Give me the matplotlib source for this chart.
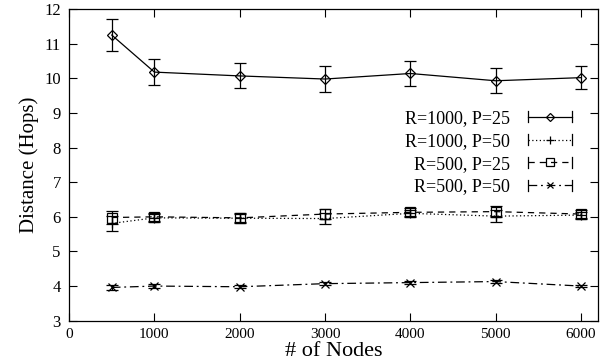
import numpy as np
import matplotlib
matplotlib.use("Agg")
import matplotlib.pyplot as plt
from matplotlib.lines import Line2D
from matplotlib.legend_handler import HandlerBase

plt.rcParams['font.family'] = ['Liberation Serif', 'DejaVu Serif']

nodes = [500, 1000, 2000, 3000, 4000, 5000, 6000]

# R=1000, P=25
r1000_p25 = [11.25, 10.18, 10.07, 9.98, 10.14, 9.93, 10.02]
r1000_p25_err = [0.47, 0.37, 0.36, 0.37, 0.35, 0.36, 0.33]
# R=1000, P=50
r1000_p50 = [5.81, 5.97, 5.96, 5.95, 6.10, 6.02, 6.05]
r1000_p50_err = [0.21, 0.12, 0.12, 0.15, 0.10, 0.17, 0.10]
# R=500, P=25
r500_p25 = [5.98, 6.00, 5.97, 6.08, 6.13, 6.15, 6.08]
r500_p25_err = [0.18, 0.12, 0.15, 0.15, 0.12, 0.15, 0.12]
# R=500, P=50
r500_p50 = [3.96, 4.00, 3.98, 4.07, 4.10, 4.13, 4.00]
r500_p50_err = [0.06, 0.05, 0.05, 0.05, 0.05, 0.05, 0.04]

labels = ["R=1000, P=25", "R=1000, P=50", "R=500, P=25", "R=500, P=50"]


class GnuplotHandler(HandlerBase):
    # horizontal sample with end caps, like gnuplot's key
    def create_artists(self, legend, orig_handle, xdescent, ydescent,
                       width, height, fontsize, trans):
        y = height / 2 - ydescent
        x0, x1 = -xdescent, -xdescent + width
        line = Line2D([x0, x1], [y, y])
        line.update_from(orig_handle)
        line.set_marker('None')
        line.set_color('black')
        line.set_linewidth(0.9)
        cap0 = Line2D([x0, x0], [y - 4, y + 4], color='black', lw=0.9)
        cap1 = Line2D([x1, x1], [y - 4, y + 4], color='black', lw=0.9)
        mk = Line2D([(x0 + x1) / 2], [y], marker=orig_handle.get_marker(),
                    markersize=orig_handle.get_markersize(),
                    mfc='none', mec='black', mew=0.9, linestyle='none')
        arts = [line, cap0, cap1, mk]
        for a in arts:
            a.set_transform(trans)
        return arts


fig = plt.figure(figsize=(6.01, 3.64), dpi=100)
ax = fig.add_axes([0.115, 0.119, 0.88, 0.856])

series = [
    (r1000_p25, r1000_p25_err, 'D', '-', 5),
    (r1000_p50, r1000_p50_err, '+', (0, (1, 2)), 7),
    (r500_p25, r500_p25_err, 's', (0, (5, 4)), 7),
    (r500_p50, r500_p50_err, 'x', (0, (7, 3, 1.5, 3)), 6),
]
handles = []
for (vals, errs, mk, ls, ms), lab in zip(series, labels):
    ax.errorbar(nodes, vals, yerr=errs, color='black', lw=0.9, linestyle=ls,
                marker=mk, markersize=ms, mfc='none', mec='black', mew=0.9,
                ecolor='black', elinewidth=0.9, capsize=4, capthick=0.9)
    handles.append(Line2D([], [], linestyle=ls, marker=mk, markersize=ms - 1))

ax.set_xlim(0, 6200)
ax.set_ylim(3, 12)
ax.set_xticks(range(0, 7000, 1000))
ax.set_yticks(range(3, 13))
ax.tick_params(direction='in', top=True, right=True, length=6)
ax.tick_params(axis='x', labelsize=11, pad=5)
ax.tick_params(axis='y', labelsize=12, pad=6)
for s in ax.spines.values():
    s.set_linewidth(0.9)

ax.set_xlabel("# of Nodes", fontsize=16, labelpad=1)
ax.set_ylabel("Distance (Hops)", fontsize=15, labelpad=4)

ax.legend(handles, labels, loc='upper right', bbox_to_anchor=(0.981, 0.728),
          frameon=False, markerfirst=False, fontsize=13, handlelength=2.4,
          handletextpad=1.0, labelspacing=0.32,
          handler_map={Line2D: GnuplotHandler()})
for t in ax.get_legend().get_texts():
    t.set_ha('right')

fig.savefig("out.png", dpi=100)
